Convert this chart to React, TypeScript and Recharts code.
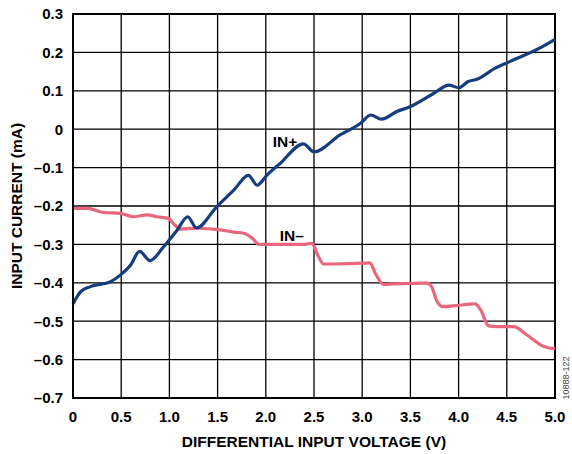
import React from 'react'
import { LineChart, Line, XAxis, YAxis, CartesianGrid, ReferenceArea, ReferenceDot } from 'recharts'

// IN+ curve, volts vs mA
const inPlusV = [0, 0.08, 0.18, 0.39, 0.49, 0.6, 0.69, 0.8, 0.94, 1.08, 1.19, 1.28, 1.49, 1.67, 1.82, 1.91, 2.01, 2.15, 2.39, 2.5, 2.77, 2.98, 3.09, 3.2, 3.36, 3.5, 3.74, 3.9, 4.0, 4.1, 4.19, 4.38, 4.53, 4.84, 5.0]
const inPlusI = [-0.455, -0.423, -0.41, -0.397, -0.38, -0.353, -0.318, -0.342, -0.306, -0.263, -0.228, -0.257, -0.202, -0.158, -0.12, -0.146, -0.12, -0.089, -0.038, -0.059, -0.015, 0.015, 0.037, 0.026, 0.046, 0.059, 0.093, 0.115, 0.108, 0.124, 0.13, 0.159, 0.176, 0.211, 0.234]

// IN– curve
const inMinusV = [0, 0.15, 0.32, 0.49, 0.63, 0.77, 0.87, 0.99, 1.04, 1.11, 1.28, 1.53, 1.67, 1.77, 1.86, 1.93, 2.12, 2.39, 2.48, 2.53, 2.6, 2.7, 3.01, 3.08, 3.135, 3.22, 3.32, 3.67, 3.72, 3.77, 3.83, 3.95, 4.17, 4.23, 4.31, 4.4, 4.57, 4.71, 4.88, 4.98, 5.0]
const inMinusI = [-0.206, -0.206, -0.217, -0.219, -0.228, -0.223, -0.228, -0.232, -0.245, -0.26, -0.258, -0.262, -0.268, -0.271, -0.284, -0.3, -0.3, -0.3, -0.297, -0.323, -0.351, -0.351, -0.349, -0.348, -0.375, -0.404, -0.403, -0.401, -0.41, -0.445, -0.462, -0.46, -0.455, -0.471, -0.512, -0.514, -0.514, -0.536, -0.565, -0.571, -0.571]

const xTicks = [0, 0.5, 1.0, 1.5, 2.0, 2.5, 3.0, 3.5, 4.0, 4.5, 5.0]
const yTicks = [-0.7, -0.6, -0.5, -0.4, -0.3, -0.2, -0.1, 0, 0.1, 0.2, 0.3]

const inPlus = inPlusV.map((v, i) => ({ v, i: inPlusI[i] }))
const inMinus = inMinusV.map((v, i) => ({ v, i: inMinusI[i] }))

const tickFont = { fontFamily: 'Liberation Sans, Arial, sans-serif', fontWeight: 700, fontSize: 15, fill: '#000' }
const titleFont = { ...tickFont, fontSize: 15.5 }

const fmtX = (v: number) => (v === 0 ? '0' : v.toFixed(1))
const fmtY = (v: number) => {
  if (Math.abs(v) < 1e-9) return '0'
  const s = Math.abs(v).toFixed(1)
  return v < 0 ? '\u2013' + s : s
}

const YTitle = (props: any) => {
  const vb = props.viewBox
  const x = 16
  const y = vb.y + vb.height / 2
  return (
    <text x={x} y={y} transform={`rotate(-90, ${x}, ${y})`} textAnchor="middle" dominantBaseline="central" style={titleFont}>
      INPUT CURRENT (mA)
    </text>
  )
}

export default function App() {
  return (
    <div style={{ position: 'absolute', left: 0, top: 0, width: 572, height: 454, background: '#fff' }}>
      <LineChart width={572} height={454} margin={{ top: 14, right: 17, bottom: 0, left: 0 }}>
        <CartesianGrid stroke="#000" strokeWidth={1.3} horizontalValues={yTicks} verticalValues={xTicks} />
        <XAxis
          type="number"
          dataKey="v"
          domain={[0, 5]}
          ticks={xTicks}
          tickFormatter={fmtX}
          tick={tickFont}
          tickLine={false}
          tickMargin={7}
          axisLine={{ stroke: '#000', strokeWidth: 2 }}
          height={56}
          allowDuplicatedCategory={false}
          label={{ value: 'DIFFERENTIAL INPUT VOLTAGE (V)', position: 'insideBottom', offset: 7, style: titleFont }}
        />
        <YAxis
          type="number"
          dataKey="i"
          domain={[-0.7, 0.3]}
          ticks={yTicks}
          tickFormatter={fmtY}
          tick={tickFont}
          tickLine={false}
          tickMargin={4}
          axisLine={{ stroke: '#000', strokeWidth: 2 }}
          width={73}
          label={<YTitle />}
        />
        <ReferenceArea x1={0} x2={5} y1={-0.7} y2={0.3} fill="none" stroke="#000" strokeWidth={2} />
        <Line data={inMinus} dataKey="i" type="monotone" stroke="#e9677d" strokeWidth={3.2} dot={false} isAnimationActive={false} />
        <Line data={inPlus} dataKey="i" type="monotone" stroke="#163e7e" strokeWidth={3.2} dot={false} isAnimationActive={false} />
        <ReferenceDot x={2.2} y={-0.033} r={0} fill="none" stroke="none"
          label={{ value: 'IN+', position: 'center', style: titleFont }} />
        <ReferenceDot x={2.27} y={-0.276} r={0} fill="none" stroke="none"
          label={{ value: 'IN\u2013', position: 'center', style: titleFont }} />
      </LineChart>
      <div style={{
        position: 'absolute', left: 566, top: 378, transform: 'translate(-50%, -50%) rotate(-90deg)',
        fontFamily: 'Liberation Sans, Arial, sans-serif', fontSize: 9, color: '#444', whiteSpace: 'nowrap'
      }}>
        10888-122
      </div>
    </div>
  )
}
